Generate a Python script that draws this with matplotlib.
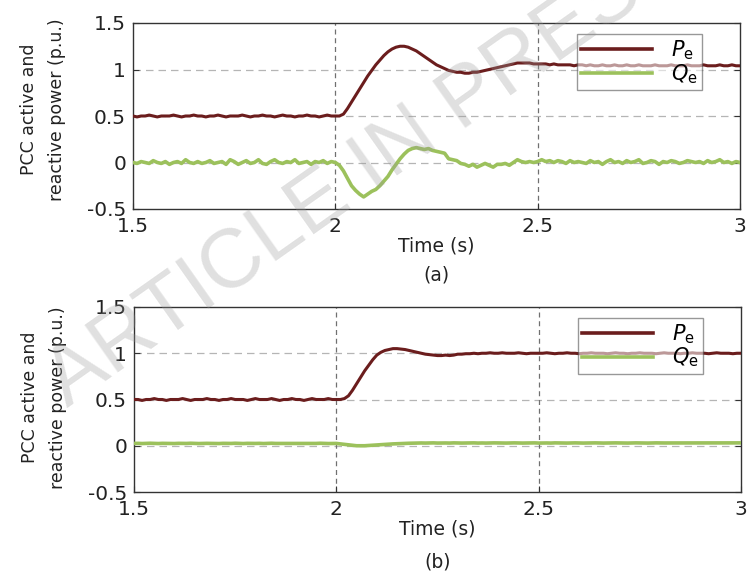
import numpy as np
import matplotlib
matplotlib.use("Agg")
import matplotlib.pyplot as plt

plt.rcParams['font.family'] = ['DejaVu Sans']
plt.rcParams['mathtext.fontset'] = 'dejavusans'

# ---------------- data (time step 0.01 s, 1.50 .. 3.00) ----------------
time = np.round(np.linspace(1.5, 3.0, 151), 2)

# (a) active power
P_a = [
    0.50, 0.49, 0.50, 0.50, 0.51, 0.50, 0.49, 0.50, 0.50, 0.50,
    0.51, 0.50, 0.49, 0.50, 0.50, 0.51, 0.50, 0.50, 0.49, 0.50,
    0.50, 0.51, 0.50, 0.49, 0.50, 0.50, 0.50, 0.51, 0.50, 0.49,
    0.50, 0.50, 0.51, 0.50, 0.50, 0.49, 0.50, 0.51, 0.50, 0.50,
    0.49, 0.50, 0.50, 0.51, 0.50, 0.50, 0.49, 0.50, 0.51, 0.50,
    0.50, 0.50,
    0.52, 0.58, 0.65, 0.72, 0.79, 0.86, 0.93, 0.99, 1.05, 1.10,
    1.15, 1.19, 1.22, 1.24, 1.25, 1.25, 1.24, 1.22, 1.20, 1.17,
    1.14, 1.11, 1.08, 1.05, 1.03, 1.01, 0.99, 0.98, 0.97,
    0.97, 0.96, 0.96, 0.97, 0.97, 0.98, 0.99, 1.00, 1.01, 1.02,
    1.03, 1.04, 1.05, 1.06, 1.07, 1.07, 1.07, 1.07, 1.06, 1.06,
    1.06, 1.06, 1.05, 1.06, 1.05, 1.05, 1.05, 1.05, 1.04, 1.05,
    1.05, 1.04, 1.05, 1.04, 1.04, 1.05, 1.04, 1.04, 1.05, 1.04,
    1.04, 1.05, 1.04, 1.04, 1.05, 1.04, 1.04, 1.04, 1.05, 1.04,
    1.04, 1.04, 1.05, 1.04, 1.04, 1.04, 1.05, 1.04, 1.04, 1.04,
    1.05, 1.04, 1.04, 1.04, 1.05, 1.04, 1.04, 1.05, 1.04, 1.04,
]

# (a) reactive power
Q_a = [
    0.00, -0.01, 0.01, 0.00, -0.01, 0.02, 0.00, -0.01, 0.01, -0.02,
    0.00, 0.01, -0.01, 0.03, 0.00, -0.01, 0.01, -0.01, 0.00, 0.02,
    -0.01, 0.00, 0.01, -0.02, 0.03, 0.01, -0.02, 0.00, 0.02, -0.01,
    0.00, 0.03, -0.01, -0.02, 0.01, 0.03, 0.00, -0.01, 0.01, 0.00,
    0.03, -0.01, 0.00, 0.01, -0.02, 0.01, 0.00, 0.02, -0.01, 0.01,
    0.00,
    -0.03, -0.09, -0.17, -0.25, -0.30, -0.34, -0.37, -0.34, -0.31, -0.29,
    -0.25, -0.20, -0.15, -0.08, -0.02, 0.04, 0.09, 0.13, 0.15, 0.16,
    0.15, 0.14, 0.15, 0.13, 0.12, 0.11, 0.10, 0.04, 0.03, 0.02,
    -0.01, -0.02, -0.04, -0.02, -0.05, -0.03, -0.01, -0.03, -0.05, -0.02,
    -0.02, -0.01, -0.03, 0.00, 0.03, 0.01, 0.00, 0.01, 0.00, 0.01,
    0.03, 0.01, 0.02, 0.00, 0.02, 0.01, -0.01, 0.02, 0.00, 0.01,
    0.00, -0.01, 0.02, 0.00, 0.01, -0.02, 0.01, 0.03, 0.00, 0.01,
    -0.01, 0.02, 0.00, 0.01, 0.03, -0.01, 0.00, 0.02, 0.01, -0.02,
    0.01, 0.00, 0.02, 0.01, -0.01, 0.00, 0.02, 0.01, 0.00, 0.01,
    -0.01, 0.02, 0.00, 0.01, 0.03, 0.00, 0.01, -0.01, 0.01, 0.00,
]

# (b) active power
P_b = [
    0.50, 0.50, 0.49, 0.50, 0.50, 0.51, 0.50, 0.50, 0.49, 0.50,
    0.50, 0.50, 0.51, 0.50, 0.49, 0.50, 0.50, 0.50, 0.51, 0.50,
    0.50, 0.49, 0.50, 0.50, 0.51, 0.50, 0.50, 0.50, 0.49, 0.50,
    0.51, 0.50, 0.50, 0.50, 0.51, 0.50, 0.49, 0.50, 0.50, 0.51,
    0.50, 0.50, 0.49, 0.50, 0.51, 0.50, 0.50, 0.50, 0.51, 0.50,
    0.50, 0.50, 0.51,
    0.54, 0.60, 0.67, 0.74, 0.81, 0.87, 0.93, 0.98, 1.01, 1.03,
    1.04, 1.05, 1.05, 1.045, 1.04, 1.03, 1.02, 1.01, 1.00, 0.99,
    0.985, 0.98, 0.975, 0.975, 0.98, 0.975, 0.98, 0.99,
    0.99, 0.995, 0.995, 1.00, 0.995, 1.00, 1.00, 1.005, 1.00, 1.00,
    1.005, 1.00, 1.00, 1.00, 1.005, 1.00, 0.995, 1.00, 1.00, 1.00,
    1.00, 1.005, 1.00, 0.995, 1.00, 1.00, 1.005, 1.00, 1.00, 0.995,
    1.00, 1.00, 1.005, 1.00, 1.00, 1.00, 0.995, 1.00, 1.005, 1.00,
    1.00, 0.995, 1.00, 1.00, 1.005, 1.00, 1.00, 1.00, 0.995, 1.00,
    1.005, 1.00, 1.00, 1.00, 0.995, 1.00, 1.00, 1.005, 1.00, 1.00,
    1.00, 0.995, 1.00, 1.005, 1.00, 1.00, 1.00, 0.995, 1.00, 1.00,
]

# (b) reactive power
Q_b = [
    0.025, 0.026, 0.024, 0.025, 0.027, 0.025, 0.024, 0.026, 0.025, 0.025,
    0.024, 0.026, 0.025, 0.025, 0.027, 0.025, 0.024, 0.025, 0.026, 0.025,
    0.025, 0.024, 0.026, 0.025, 0.025, 0.027, 0.025, 0.024, 0.026, 0.025,
    0.025, 0.026, 0.024, 0.025, 0.027, 0.025, 0.025, 0.024, 0.026, 0.025,
    0.026, 0.025, 0.024, 0.025, 0.026, 0.025, 0.027, 0.025, 0.024, 0.025,
    0.025,
    0.020, 0.015, 0.010, 0.005, 0.000, 0.000, 0.000, 0.003, 0.005, 0.008,
    0.011, 0.014, 0.017, 0.020, 0.022, 0.024, 0.026, 0.027, 0.028, 0.029,
    0.030, 0.029, 0.030, 0.031, 0.029, 0.030, 0.030, 0.029, 0.031, 0.030,
    0.029, 0.030, 0.030, 0.031, 0.029, 0.030, 0.029, 0.030, 0.031, 0.030,
    0.030, 0.029, 0.030, 0.031, 0.030, 0.029, 0.030, 0.030, 0.031, 0.029,
    0.030, 0.030, 0.029, 0.031, 0.030, 0.030, 0.029, 0.030, 0.031, 0.030,
    0.029, 0.030, 0.030, 0.031, 0.030, 0.029, 0.030, 0.030, 0.031, 0.030,
    0.030, 0.029, 0.030, 0.031, 0.030, 0.030, 0.029, 0.030, 0.031, 0.030,
    0.030, 0.030, 0.029, 0.031, 0.030, 0.030, 0.029, 0.030, 0.031, 0.030,
    0.030, 0.029, 0.030, 0.031, 0.030, 0.030, 0.030, 0.029, 0.030, 0.031,
]

x_ticks = [1.5, 2, 2.5, 3]
x_ticklabels = ['1.5', '2', '2.5', '3']
y_ticks = [-0.5, 0, 0.5, 1, 1.5]
y_ticklabels = ['-0.5', '0', '0.5', '1', '1.5']
series_labels = [r'$P_{\mathrm{e}}$', r'$Q_{\mathrm{e}}$']
panel_labels = ['(a)', '(b)']

P_COLOR = '#6b1d1d'
Q_COLOR = '#9cc15c'
TXT = '#222222'

fig = plt.figure(figsize=(7.53, 5.72), dpi=100)
W, H = 753.0, 572.0
ax_a = fig.add_axes([133 / W, 1 - 209 / H, 607 / W, 186 / H])
ax_b = fig.add_axes([134 / W, 1 - 492 / H, 607 / W, 185 / H])

for ax, P, Q, plab, ylab_y, plab_y in [(ax_a, P_a, Q_a, panel_labels[0], 0.535, -0.355),
                                       (ax_b, P_b, Q_b, panel_labels[1], 0.51, -0.378)]:
    ax.set_xlim(1.5, 3.0)
    ax.set_ylim(-0.5, 1.5)
    for yv in [0, 0.5, 1]:
        ax.axhline(yv, color='#b5b5b5', lw=0.9, ls=(0, (6, 4)), zorder=1)
    for xv in [2, 2.5]:
        ax.axvline(xv, color='#707070', lw=0.9, ls=(0, (4, 3)), zorder=1)
    ax.plot(time, P, color=P_COLOR, lw=2.2, zorder=3, label=series_labels[0])
    ax.plot(time, Q, color=Q_COLOR, lw=2.6, zorder=3, label=series_labels[1])
    ax.set_xticks(x_ticks)
    ax.set_xticklabels(x_ticklabels)
    ax.set_yticks(y_ticks)
    ax.set_yticklabels(y_ticklabels)
    ax.tick_params(direction='in', length=4, width=0.8, labelsize=14.5,
                   left=True, right=True, top=False, bottom=True,
                   colors='#333333', labelcolor=TXT)
    ax.tick_params(axis='x', pad=6)
    ax.tick_params(axis='y', pad=5)
    for sp in ax.spines.values():
        sp.set_color('#333333')
        sp.set_linewidth(1.0)
    ax.set_ylabel('PCC active and\nreactive power (p.u.)', fontsize=12.5,
                  linespacing=1.75, color=TXT)
    ax.yaxis.set_label_coords(-0.11, ylab_y)
    ax.set_xlabel('Time (s)', fontsize=13.5, color=TXT, labelpad=0)
    ax.text(0.5, plab_y, plab, transform=ax.transAxes, ha='center', va='center',
            fontsize=13.5, color=TXT)
    leg = ax.legend(loc='upper right', bbox_to_anchor=(0.937, 0.94),
                    fontsize=15, handlelength=3.4, handletextpad=0.9,
                    borderpad=0.2, labelspacing=0.0, borderaxespad=0,
                    frameon=True, fancybox=False, framealpha=0.55)
    leg.get_frame().set_edgecolor('#444444')
    leg.get_frame().set_linewidth(1.0)
    for ln in leg.get_lines():
        ln.set_linewidth(2.6)
    leg.set_zorder(5)

# watermark
fig.text(367 / W, 1 - 170 / H, 'ARTICLE IN PRESS', rotation=35.2,
         rotation_mode='anchor', ha='center', va='center', fontsize=60,
         family=['Liberation Sans Narrow', 'Liberation Sans'],
         color='#9a9a9a', alpha=0.3, zorder=10)

fig.savefig('out.png', dpi=100)
